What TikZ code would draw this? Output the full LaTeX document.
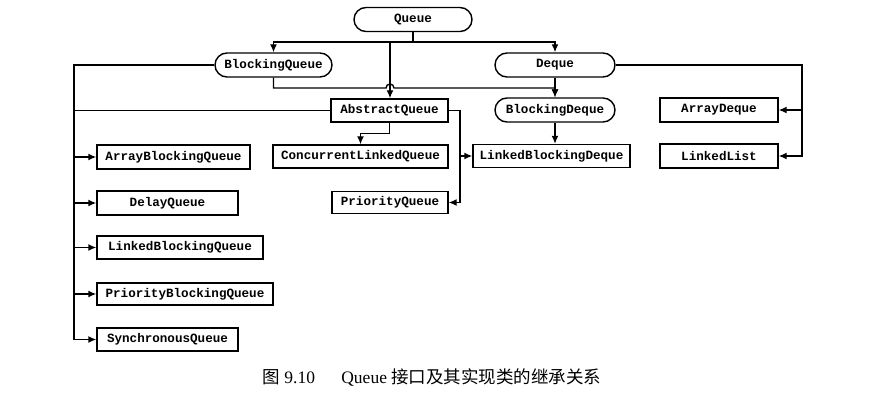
\documentclass[tikz,border=0pt]{standalone}
\usepackage{fontspec}
\setmainfont{Liberation Serif}
\newfontfamily\codefont{Liberation Mono}
\newfontfamily\cjk{Noto Sans CJK SC}
\usetikzlibrary{arrows.meta}

\begin{document}
\begin{tikzpicture}[x=1pt, y=-1pt, line width=1.4pt]
\tikzstyle{ifacebox}=[rectangle, draw, rounded corners=12pt, minimum height=24pt, inner sep=0pt, font=\codefont\bfseries\fontsize{12.6}{14}\selectfont]
\tikzstyle{classbox}=[rectangle, draw, minimum height=23pt, inner sep=0pt, font=\codefont\bfseries\fontsize{12.6}{14}\selectfont]
\tikzstyle{plainline}=[line width=1.4pt]
\tikzstyle{drawstyle}=[line width=1.4pt, -{Latex[length=8pt,width=7pt]}]

\useasboundingbox (0,0) rectangle (869,403);

% interfaces
\node[ifacebox, minimum width=118pt] (queue) at (413,19.5) {Queue};
\node[ifacebox, minimum width=117pt] (bq) at (273.5,65) {BlockingQueue};
\node[ifacebox, minimum width=120pt] (deque) at (555,65) {Deque};
\node[ifacebox, minimum width=120pt] (bd) at (555,110) {BlockingDeque};

% classes
\node[classbox, minimum width=117pt] (aq) at (389.5,110.5) {AbstractQueue};
\node[classbox, minimum width=175pt] (clq) at (360.5,156.5) {ConcurrentLinkedQueue};
\node[classbox, minimum width=116pt, minimum height=22pt] (pq) at (390,202.5) {PriorityQueue};
\node[classbox, minimum width=157pt] (lbd) at (551.5,156) {LinkedBlockingDeque};
\node[classbox, minimum width=118pt, minimum height=24pt] (ad) at (719,110) {ArrayDeque};
\node[classbox, minimum width=118pt, minimum height=24pt] (ll) at (719,156) {LinkedList};
\node[classbox, minimum width=153pt, minimum height=24pt] (abq) at (173.5,157) {ArrayBlockingQueue};
\node[classbox, minimum width=141pt, minimum height=24pt] (dq) at (167.5,203) {DelayQueue};
\node[classbox, minimum width=166pt] (lbq) at (180,247.5) {LinkedBlockingQueue};
\node[classbox, minimum width=176pt, minimum height=22pt] (pbq) at (185,294) {PriorityBlockingQueue};
\node[classbox, minimum width=141pt] (sq) at (167.5,339.5) {SynchronousQueue};

% bus lines
\coordinate (qsplit) at (413,42);
\coordinate (qtap) at (390,42);
\coordinate (hopL) at (386,88);
\coordinate (lbus) at (74,0);
\coordinate (rbus) at (460,0);
\coordinate (dbus) at (802,0);

% Queue
\draw[plainline] (queue.south) -- (qsplit);
\draw[drawstyle] (qsplit) -| (bq.north);
\draw[drawstyle] (qsplit) -| (deque.north);
\draw[drawstyle] (qtap) -- (qtap |- aq.north);

% BlockingDeque
\draw[drawstyle] (bq.south) |- (hopL) arc[start angle=180, end angle=0, radius=4pt] -| (bd.north);
\draw[drawstyle] (deque.south) -- (bd.north);
\draw[drawstyle] (bd.south) -- (bd.south |- lbd.north);

% BlockingQueue implementations
\draw[drawstyle] (bq.west) -| (sq.west -| lbus) -- (sq.west);
\draw[plainline] (aq.west) -- (aq.west -| lbus);
\foreach \n in {abq,dq,lbq,pbq}
  \draw[drawstyle] (\n.west -| lbus) -- (\n.west);

% AbstractQueue
\draw[drawstyle] (aq.south) -- ++(0,11) -| (clq.north);
\draw[drawstyle] (aq.east) -| (pq.east -| rbus) -- (pq.east);
\draw[drawstyle] (lbd.west -| rbus) -- (lbd.west);

% Deque
\draw[drawstyle] (deque.east) -| (ll.east -| dbus) -- (ll.east);
\draw[drawstyle] (ad.east -| dbus) -- (ad.east);

% caption
\node[font=\fontsize{17.5}{20}\selectfont] (caption) at (432,378) {{\cjk 图} 9.10\hspace{1.5em}Queue {\cjk 接口及其实现类的继承关系}};
\end{tikzpicture}
\end{document}
